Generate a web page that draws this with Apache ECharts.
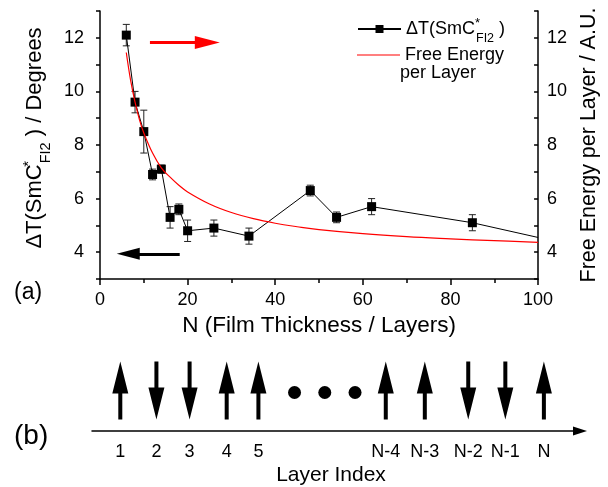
<!DOCTYPE html>
<html>
<head>
<meta charset="utf-8">
<script src="https://cdn.jsdelivr.net/npm/echarts@6/dist/echarts.min.js"></script>
<style>
  html, body { margin: 0; padding: 0; background: #fff; }
  #main { width: 608px; height: 487px; }
</style>
</head>
<body>
<div id="main"></div>
<script>
// film thickness (layers) and measured temperature range with error bars
var thickness = [6, 8, 10, 12, 14, 16, 18, 20, 26, 34, 48, 54, 62, 85, 100];
var deltaT = [12.1, 9.6, 8.5, 6.9, 7.1, 5.3, 5.6, 4.8, 4.9, 4.6, 6.3, 5.3, 5.7, 5.1, 4.55];
var deltaErr = [0.4, 0.4, 0.8, 0.2, 0.15, 0.4, 0.2, 0.4, 0.3, 0.3, 0.2, 0.2, 0.3, 0.3, 0];

// free energy per layer curve
var energyN = [6, 7, 8, 9, 10, 12, 14, 16, 18, 20, 25, 30, 35, 40, 45, 50, 60, 70, 80, 90, 100];
var energyVal = [11.45, 10.4, 9.6, 8.95, 8.45, 7.7, 7.15, 6.8, 6.5, 6.25, 5.8, 5.48, 5.25, 5.08, 4.95, 4.84, 4.69, 4.58, 4.5, 4.43, 4.37];

// panel (b): layer positions along the index axis and their spins
var layerNames = ['1', '2', '3', '4', '5', 'N-4', 'N-3', 'N-2', 'N-1', 'N'];
var layerPos = [5.8, 13.2, 20.0, 27.6, 34.1, 60.2, 68.2, 77.1, 84.7, 92.6];
var layerSpin = [1, -1, -1, 1, 1, 1, 1, -1, -1, 1];
var dotPos = [41.5, 47.7, 53.9];

var FONT = 'Liberation Sans, Arial, sans-serif';

var chart = echarts.init(document.getElementById('main'));

var lineData = thickness.map(function (x, i) {
  var item = { value: [x, deltaT[i]] };
  if (!deltaErr[i]) item.symbol = 'none';
  return item;
});
var errData = [];
thickness.forEach(function (x, i) {
  if (deltaErr[i]) errData.push([x, deltaT[i] - deltaErr[i], deltaT[i] + deltaErr[i]]);
});
var energyData = energyN.map(function (x, i) { return [x, energyVal[i]]; });

var arrowPath = 'path://M8,0 L16,32 L10,32 L10,58 L6,58 L6,32 L0,32 Z';
var spinData = layerPos.map(function (p, i) {
  return { value: [p, 1], symbolRotate: layerSpin[i] > 0 ? 0 : 180 };
});
var dotData = dotPos.map(function (p) { return [p, 0.95]; });

var subRich = {
  a: { fontSize: 18, fontFamily: FONT, color: '#000', lineHeight: 30, verticalAlign: 'middle' },
  s: { fontSize: 13, fontFamily: FONT, color: '#000', lineHeight: 13, verticalAlign: 'top', padding: [3, 0, 0, 0], width: 1 },
  b: { fontSize: 12.5, fontFamily: FONT, color: '#000', lineHeight: 12, verticalAlign: 'top', padding: [18, 0, 0, 0] }
};
var nameRich = {
  a: { fontSize: 22, fontFamily: FONT, color: '#000', lineHeight: 34, verticalAlign: 'middle' },
  s: { fontSize: 15, fontFamily: FONT, color: '#000', lineHeight: 15, verticalAlign: 'top', padding: [3, 0, 0, 0], width: 1 },
  b: { fontSize: 14.5, fontFamily: FONT, color: '#000', lineHeight: 14, verticalAlign: 'top', padding: [20, 0, 0, 0] }
};

var evenOnly = function (v) { return v % 2 === 0 ? String(v) : ''; };

chart.setOption({
  animation: false,
  textStyle: { fontFamily: FONT },
  grid: [
    { left: 100, right: 69, top: 11, bottom: 208 },
    { left: 92, right: 28, top: 350, bottom: 55 }
  ],
  legend: [
    {
      data: ['dT'],
      left: 352, top: 9,
      orient: 'vertical',
      itemWidth: 43, itemHeight: 10,
      formatter: function () { return '{a|ΔT(SmC}{s|*}{b|FI2}{a| )}'; },
      textStyle: { rich: subRich }
    },
    {
      data: [{ name: 'Free Energy per Layer', icon: 'rect' }],
      left: 352, top: 41,
      orient: 'vertical',
      itemWidth: 43, itemHeight: 1.2,
      formatter: function () { return 'Free Energy'; },
      textStyle: { fontSize: 18, color: '#000' }
    }
  ],
  xAxis: [
    {
      type: 'value', gridIndex: 0, min: 0, max: 100, interval: 20,
      name: 'N (Film Thickness / Layers)', nameLocation: 'middle', nameGap: 26,
      nameTextStyle: { fontSize: 22.5, color: '#000' },
      axisLine: { lineStyle: { color: '#000', width: 1.5 } },
      axisTick: { length: 6, lineStyle: { color: '#000', width: 1.5 } },
      minorTick: { show: true, splitNumber: 2, length: 4, lineStyle: { color: '#000', width: 1.5 } },
      axisLabel: { fontSize: 18, color: '#000', margin: 12 },
      splitLine: { show: false }
    },
    {
      type: 'value', gridIndex: 1, min: 0, max: 100,
      name: 'Layer Index', nameLocation: 'middle', nameGap: 34,
      nameTextStyle: { fontSize: 21, color: '#000', padding: [0, 10, 0, 0] },
      axisLine: { symbol: ['none', 'triangle'], symbolSize: [9, 14], lineStyle: { color: '#000', width: 1.5 } },
      axisTick: { show: false },
      axisLabel: {
        fontSize: 18, color: '#000', margin: 12,
        customValues: layerPos,
        formatter: function (v) {
          var i = layerPos.indexOf(v);
          return i >= 0 ? layerNames[i] : '';
        }
      },
      splitLine: { show: false }
    }
  ],
  yAxis: [
    {
      type: 'value', gridIndex: 0, min: 3, max: 13, interval: 1,
      name: '{a|ΔT(SmC}{s|*}{b|FI2}{a| ) / Degrees}', nameLocation: 'middle', nameGap: 46,
      nameTextStyle: { rich: nameRich, padding: [0, 0, 0, 14] },
      axisLine: { lineStyle: { color: '#000', width: 1.5 } },
      axisTick: { length: 4, lineStyle: { color: '#000', width: 1.5 } },
      axisLabel: { fontSize: 18, color: '#000', margin: 16, formatter: evenOnly },
      splitLine: { show: false }
    },
    {
      type: 'value', gridIndex: 0, position: 'right', min: 3, max: 13, interval: 1,
      name: 'Free Energy per Layer / A.U.', nameLocation: 'middle', nameGap: 35,
      nameTextStyle: { fontSize: 21.5, color: '#000' },
      axisLine: { show: true, lineStyle: { color: '#000', width: 1.5 } },
      axisTick: { inside: true, length: 4, lineStyle: { color: '#000', width: 1.5 } },
      axisLabel: { fontSize: 18, color: '#000', margin: 9, formatter: evenOnly },
      splitLine: { show: false }
    },
    {
      type: 'value', gridIndex: 1, min: 0, max: 2, show: false
    }
  ],
  graphic: [
    { type: 'text', left: 400, top: 64, style: { text: 'per Layer', fontSize: 18, fontFamily: FONT, fill: '#000' } },
    { type: 'text', left: 14, top: 281, style: { text: '(a)', fontSize: 23, fontFamily: FONT, fill: '#000' } },
    { type: 'text', left: 14, top: 422, style: { text: '(b)', fontSize: 28, fontFamily: FONT, fill: '#000' } }
  ],
  series: [
    {
      name: 'dT', type: 'line', xAxisIndex: 0, yAxisIndex: 0,
      data: lineData,
      symbol: 'rect', symbolSize: 9,
      itemStyle: { color: '#000' },
      lineStyle: { color: '#000', width: 1 },
      z: 3,
      markLine: {
        silent: true,
        symbol: ['none', 'triangle'],
        label: { show: false },
        emphasis: { disabled: true },
        lineStyle: { type: 'solid', width: 3 },
        data: [
          [
            { coord: [11.4, 11.82], symbol: 'none', lineStyle: { color: '#ff0000' } },
            { coord: [24.5, 11.82], symbol: 'triangle', symbolSize: [13, 25], itemStyle: { color: '#ff0000' } }
          ],
          [
            { coord: [18.2, 3.94], symbol: 'none', lineStyle: { color: '#000' } },
            { coord: [6.45, 3.94], symbol: 'triangle', symbolSize: [12, 23], itemStyle: { color: '#000' } }
          ]
        ]
      }
    },
    {
      type: 'custom', xAxisIndex: 0, yAxisIndex: 0,
      data: errData,
      z: 2,
      renderItem: function (params, api) {
        var lo = api.coord([api.value(0), api.value(1)]);
        var hi = api.coord([api.value(0), api.value(2)]);
        var w = 3.5;
        var st = { stroke: '#222', lineWidth: 1 };
        return {
          type: 'group',
          children: [
            { type: 'line', shape: { x1: lo[0], y1: lo[1], x2: hi[0], y2: hi[1] }, style: st },
            { type: 'line', shape: { x1: lo[0] - w, y1: lo[1], x2: lo[0] + w, y2: lo[1] }, style: st },
            { type: 'line', shape: { x1: hi[0] - w, y1: hi[1], x2: hi[0] + w, y2: hi[1] }, style: st }
          ]
        };
      }
    },
    {
      name: 'Free Energy per Layer', type: 'line', xAxisIndex: 0, yAxisIndex: 1,
      data: energyData,
      smooth: 0.4, symbol: 'none',
      itemStyle: { color: '#ff0000' },
      lineStyle: { color: '#ff0000', width: 1.2 },
      z: 4
    },
    {
      type: 'scatter', xAxisIndex: 1, yAxisIndex: 2,
      data: spinData,
      symbol: arrowPath, symbolSize: [16, 58],
      itemStyle: { color: '#000', opacity: 1 }
    },
    {
      type: 'scatter', xAxisIndex: 1, yAxisIndex: 2,
      data: dotData,
      symbol: 'circle', symbolSize: 13,
      itemStyle: { color: '#000', opacity: 1 }
    }
  ]
});
</script>
</body>
</html>
